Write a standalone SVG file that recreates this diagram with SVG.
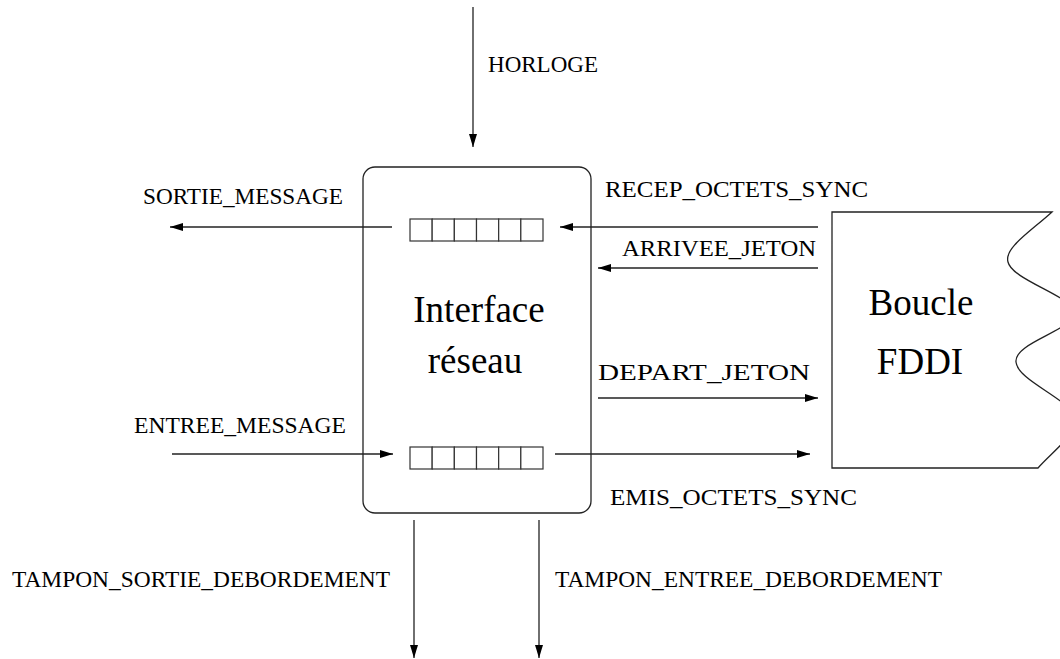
<svg xmlns="http://www.w3.org/2000/svg" width="1060" height="659" viewBox="0 0 1060 659">
  <style>
    .ln { stroke: #222; stroke-width: 1.3; fill: none; }
    .cell { stroke: #333; stroke-width: 1.2; fill: #fff; }
    .lbl { font-family: "Liberation Serif", "Times New Roman", serif; font-size: 24px; fill: #000; }
    .big { font-family: "Liberation Serif", "Times New Roman", serif; font-size: 37px; fill: #000; text-anchor: middle; }
  </style>
  <defs>
    <marker id="ah" markerUnits="userSpaceOnUse" markerWidth="14" markerHeight="10" refX="13" refY="5" orient="auto">
      <path d="M0,1 L13,5 L0,9 Z" fill="#000"/>
    </marker>
    <g id="buffer">
      <rect class="cell" x="0" y="0" width="22.17" height="22"/>
      <rect class="cell" x="22.17" y="0" width="22.17" height="22"/>
      <rect class="cell" x="44.33" y="0" width="22.17" height="22"/>
      <rect class="cell" x="66.5" y="0" width="22.17" height="22"/>
      <rect class="cell" x="88.67" y="0" width="22.17" height="22"/>
      <rect class="cell" x="110.83" y="0" width="22.17" height="22"/>
    </g>
  </defs>
  <rect width="1060" height="659" fill="#fff"/>

  <!-- network interface block with its two buffers -->
  <g id="interface">
    <rect class="ln" x="363" y="167" width="228" height="346" rx="12"/>
    <use href="#buffer" x="410" y="219"/>
    <use href="#buffer" x="410" y="447"/>
    <text class="big" x="479" y="322">Interface</text>
    <text class="big" x="475" y="373">réseau</text>
  </g>

  <!-- FDDI ring, torn right edge -->
  <g id="fddi">
    <path class="ln" d="M832,212 L1052,212 C1030,232 1004,248 1008,262 C1012,280 1072,296 1074,312 C1076,330 1014,342 1016,362 C1018,382 1074,400 1075,420 C1075,436 1052,452 1038,468 L832,468 Z"/>
    <text class="big" x="921" y="315">Boucle</text>
    <text class="big" x="920" y="374">FDDI</text>
  </g>

  <!-- connectors -->
  <g id="connectors">
    <line class="ln" x1="473" y1="7" x2="473" y2="147" marker-end="url(#ah)"/>
    <line class="ln" x1="392" y1="227" x2="170" y2="227" marker-end="url(#ah)"/>
    <line class="ln" x1="818" y1="227" x2="560" y2="227" marker-end="url(#ah)"/>
    <line class="ln" x1="818" y1="268" x2="598" y2="268" marker-end="url(#ah)"/>
    <line class="ln" x1="598" y1="398" x2="818" y2="398" marker-end="url(#ah)"/>
    <line class="ln" x1="172" y1="454" x2="393" y2="454" marker-end="url(#ah)"/>
    <line class="ln" x1="555" y1="454" x2="810" y2="454" marker-end="url(#ah)"/>
    <line class="ln" x1="414" y1="520" x2="414" y2="658" marker-end="url(#ah)"/>
    <line class="ln" x1="539" y1="520" x2="539" y2="658" marker-end="url(#ah)"/>
  </g>

  <!-- signal labels -->
  <g id="labels">
    <text class="lbl" x="488" y="72" textLength="110" lengthAdjust="spacingAndGlyphs">HORLOGE</text>
    <text class="lbl" x="143" y="204" textLength="200" lengthAdjust="spacingAndGlyphs">SORTIE_MESSAGE</text>
    <text class="lbl" x="605" y="197" textLength="263" lengthAdjust="spacingAndGlyphs">RECEP_OCTETS_SYNC</text>
    <text class="lbl" x="622" y="256" textLength="194" lengthAdjust="spacingAndGlyphs">ARRIVEE_JETON</text>
    <text class="lbl" x="598" y="380" textLength="212" lengthAdjust="spacingAndGlyphs">DEPART_JETON</text>
    <text class="lbl" x="134" y="433" textLength="212" lengthAdjust="spacingAndGlyphs">ENTREE_MESSAGE</text>
    <text class="lbl" x="610" y="505" textLength="247" lengthAdjust="spacingAndGlyphs">EMIS_OCTETS_SYNC</text>
    <text class="lbl" x="12" y="587" textLength="378" lengthAdjust="spacingAndGlyphs">TAMPON_SORTIE_DEBORDEMENT</text>
    <text class="lbl" x="555" y="587" textLength="387" lengthAdjust="spacingAndGlyphs">TAMPON_ENTREE_DEBORDEMENT</text>
  </g>
</svg>
